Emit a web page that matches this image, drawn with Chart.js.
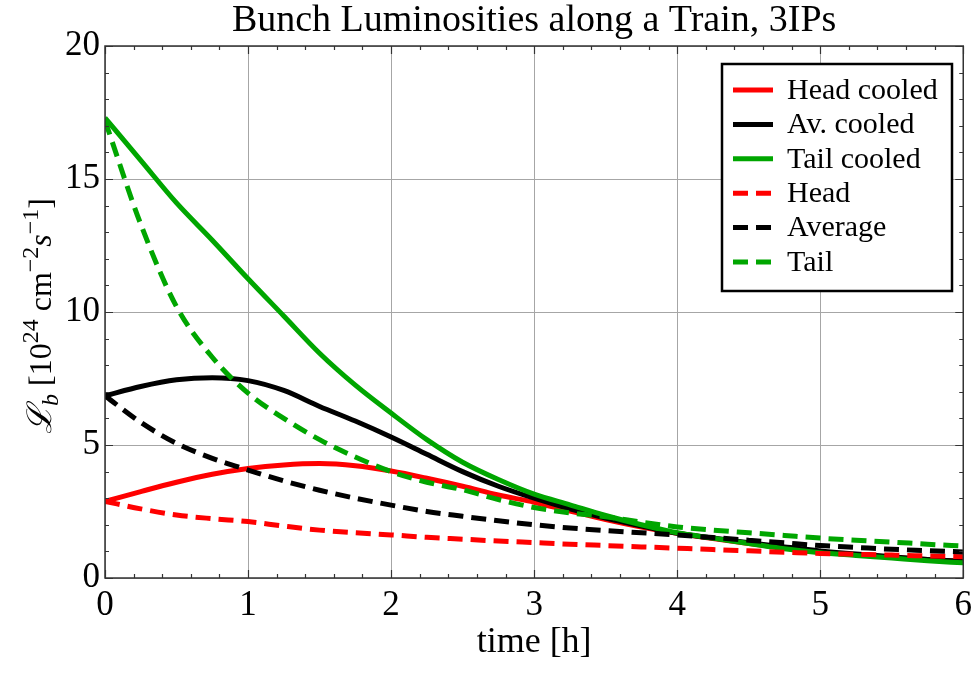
<!DOCTYPE html>
<html>
<head>
<meta charset="utf-8">
<script src="https://cdn.jsdelivr.net/npm/chart.js@4"></script>
<style>
  html, body { margin: 0; padding: 0; background: #fff; }
  canvas { display: block; }
</style>
</head>
<body>
<canvas id="chart" width="979" height="678"></canvas>
<script>
// Time grid in hours
const times = [0, 0.25, 0.5, 0.75, 1, 1.25, 1.5, 1.75, 2, 2.25, 2.5, 2.75, 3,
               3.25, 3.5, 3.75, 4, 4.25, 4.5, 4.75, 5, 5.25, 5.5, 5.75, 6];

// Bunch luminosities, 10^24 cm^-2 s^-1
const headCooled = [2.88, 3.25, 3.6, 3.9, 4.12, 4.25, 4.3, 4.22, 4.02, 3.75, 3.45, 3.12, 2.85,
                    2.52, 2.2, 1.92, 1.68, 1.48, 1.3, 1.13, 0.98, 0.87, 0.78, 0.7, 0.63];
const avCooled   = [6.85, 7.2, 7.45, 7.53, 7.42, 7.05, 6.45, 5.9, 5.3, 4.65, 4.0, 3.45, 3.0,
                    2.6, 2.25, 1.95, 1.68, 1.5, 1.33, 1.17, 1.02, 0.9, 0.8, 0.7, 0.62];
const tailCooled = [17.3, 15.7, 14.1, 12.7, 11.25, 9.85, 8.45, 7.25, 6.2, 5.2, 4.35, 3.7, 3.15,
                    2.75, 2.35, 2.0, 1.7, 1.5, 1.3, 1.1, 0.95, 0.85, 0.75, 0.65, 0.57];
const head       = [2.88, 2.6, 2.37, 2.23, 2.12, 1.95, 1.8, 1.7, 1.62, 1.53, 1.46, 1.39, 1.33,
                    1.27, 1.22, 1.17, 1.12, 1.07, 1.02, 0.97, 0.92, 0.89, 0.86, 0.83, 0.8];
const average    = [6.85, 5.85, 5.06, 4.5, 4.06, 3.65, 3.3, 3.0, 2.74, 2.5, 2.32, 2.15, 2.0,
                    1.88, 1.78, 1.7, 1.62, 1.52, 1.42, 1.32, 1.22, 1.15, 1.08, 1.03, 0.98];
const tail       = [17.2, 13.3, 10.2, 8.3, 6.95, 6.0, 5.2, 4.55, 4.0, 3.6, 3.32, 2.95, 2.65,
                    2.45, 2.3, 2.1, 1.92, 1.8, 1.7, 1.6, 1.5, 1.42, 1.35, 1.27, 1.2];

const seriesNames = ['Head cooled', 'Av. cooled', 'Tail cooled', 'Head', 'Average', 'Tail'];
const xTicks = [0, 1, 2, 3, 4, 5, 6];
const yTicks = [0, 5, 10, 15, 20];

const RED = '#ff0000', BLACK = '#000000', GREEN = '#00a600';
const DASH = [15, 8];
const SERIF = '"Liberation Serif", "Times New Roman", serif';

const seriesValues = [headCooled, avCooled, tailCooled, head, average, tail];
const seriesColors = [RED, BLACK, GREEN, RED, BLACK, GREEN];
const seriesDashed = [false, false, false, true, true, true];

const datasets = seriesNames.map((name, i) => ({
  label: name,
  data: times.map((t, k) => ({ x: t, y: seriesValues[i][k] })),
  borderColor: seriesColors[i],
  backgroundColor: seriesColors[i],
  borderDash: seriesDashed[i] ? DASH : [],
  borderWidth: 5,
  pointRadius: 0,
  fill: false,
  order: seriesNames.length - i   // later series drawn on top
}));

// Frame with inward ticks on all four sides
const framePlugin = {
  id: 'frame',
  afterDatasetsDraw(chart) {
    const { ctx, chartArea: a, scales: { x, y } } = chart;
    ctx.save();
    ctx.strokeStyle = '#333';
    ctx.lineWidth = 1.2;
    ctx.beginPath();
    for (let v = 0; v <= 6.0001; v += 0.2) {
      const px = Math.round(x.getPixelForValue(v)) + 0.5;
      const major = Math.abs(v - Math.round(v)) < 1e-6;
      const len = major ? 8 : 4;
      ctx.moveTo(px, a.bottom); ctx.lineTo(px, a.bottom - len);
      ctx.moveTo(px, a.top); ctx.lineTo(px, a.top + len);
    }
    for (let v = 0; v <= 20; v += 1) {
      const py = Math.round(y.getPixelForValue(v)) + 0.5;
      const len = v % 5 === 0 ? 8 : 4;
      ctx.moveTo(a.left, py); ctx.lineTo(a.left + len, py);
      ctx.moveTo(a.right, py); ctx.lineTo(a.right - len, py);
    }
    ctx.stroke();
    ctx.lineWidth = 1.5;
    ctx.strokeRect(a.left, a.top, a.right - a.left, a.bottom - a.top);
    ctx.restore();
  }
};

// Legend box inside the plot
const legendBox = {
  id: 'legendBox',
  afterDraw(chart) {
    const { ctx } = chart;
    const bx = 722, by = 64, bw = 230, bh = 227;
    ctx.save();
    ctx.fillStyle = '#fff';
    ctx.fillRect(bx, by, bw, bh);
    ctx.strokeStyle = '#000';
    ctx.lineWidth = 2.5;
    ctx.strokeRect(bx, by, bw, bh);
    ctx.font = '30px ' + SERIF;
    ctx.textBaseline = 'middle';
    ctx.textAlign = 'left';
    chart.data.datasets.forEach((ds, i) => {
      const cy = 90 + i * 34.4;
      ctx.strokeStyle = ds.borderColor;
      ctx.lineWidth = 5;
      ctx.lineCap = 'butt';
      ctx.setLineDash(ds.borderDash || []);
      ctx.beginPath();
      ctx.moveTo(733, cy); ctx.lineTo(773, cy);
      ctx.stroke();
      ctx.setLineDash([]);
      ctx.fillStyle = '#000';
      ctx.fillText(ds.label, 787, cy + 1);
    });
    ctx.restore();
  }
};

// Rotated y-axis label with sub- and superscripts
const yLabel = {
  id: 'yLabel',
  afterDraw(chart) {
    const { ctx, chartArea: a } = chart;
    const parts = [
      { t: '\u2112', f: 'italic 34px ' + SERIF, dy: 0 },
      { t: 'b', f: 'italic 24px ' + SERIF, dy: 7 },
      { t: ' [10', f: '32px ' + SERIF, dy: 0 },
      { t: '24', f: '24px ' + SERIF, dy: -13 },
      { t: ' cm', f: '32px ' + SERIF, dy: 0 },
      { t: '\u22122', f: '24px ' + SERIF, dy: -13 },
      { t: 's', f: 'italic 32px ' + SERIF, dy: 0 },
      { t: '\u22121', f: '24px ' + SERIF, dy: -13 },
      { t: ']', f: '32px ' + SERIF, dy: 0 }
    ];
    ctx.save();
    let total = 0;
    parts.forEach(p => { ctx.font = p.f; p.w = ctx.measureText(p.t).width; total += p.w; });
    ctx.translate(51, (a.top + a.bottom) / 2 + 4);
    ctx.rotate(-Math.PI / 2);
    ctx.fillStyle = '#000';
    ctx.textBaseline = 'alphabetic';
    let cx = -total / 2;
    parts.forEach(p => { ctx.font = p.f; ctx.fillText(p.t, cx, p.dy); cx += p.w; });
    ctx.restore();
  }
};

new Chart(document.getElementById('chart'), {
  type: 'line',
  data: { datasets },
  options: {
    responsive: false,
    animation: false,
    devicePixelRatio: 1,
    layout: { padding: { top: 0, right: 13, bottom: 0, left: 0 } },
    elements: { line: { cubicInterpolationMode: 'monotone', borderCapStyle: 'butt' } },
    plugins: {
      legend: { display: false },
      tooltip: { enabled: false },
      title: {
        display: true,
        fullSize: false,
        text: 'Bunch Luminosities along a Train, 3IPs',
        color: '#000',
        font: { family: SERIF, size: 38, weight: 'normal', lineHeight: 1 },
        padding: { top: 2, bottom: 6 }
      }
    },
    scales: {
      x: {
        type: 'linear', min: 0, max: 6,
        afterFit(s) { s.height = 100; },
        afterBuildTicks(s) { s.ticks = xTicks.map(v => ({ value: v })); },
        grid: { color: '#a6a6a6', lineWidth: 1, drawTicks: false },
        border: { display: false },
        ticks: { padding: 7, color: '#000', maxRotation: 0, font: { family: SERIF, size: 35 } },
        title: {
          display: true, text: 'time [h]', color: '#000',
          font: { family: SERIF, size: 36, lineHeight: 1 },
          padding: { top: 0, bottom: 17 }
        }
      },
      y: {
        type: 'linear', min: 0, max: 20,
        afterFit(s) { s.width = 105; },
        afterBuildTicks(s) { s.ticks = yTicks.map(v => ({ value: v })); },
        grid: { color: '#a6a6a6', lineWidth: 1, drawTicks: false },
        border: { display: false },
        ticks: { padding: 5, color: '#000', font: { family: SERIF, size: 35 } }
      }
    }
  },
  plugins: [framePlugin, legendBox, yLabel]
});
</script>
</body>
</html>
